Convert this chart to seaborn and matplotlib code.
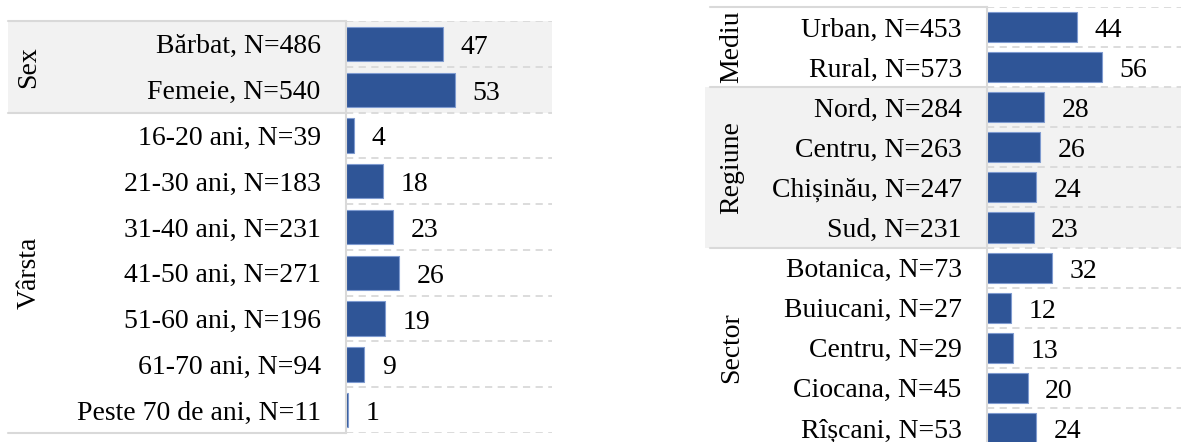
import matplotlib
matplotlib.use("Agg")
import matplotlib.pyplot as plt
import matplotlib.transforms as mtransforms
from matplotlib.patches import Rectangle
from matplotlib.lines import Line2D
import seaborn as sns
import pandas as pd

sns.set_theme(style="white")
plt.rcParams['font.family'] = ['Liberation Serif', 'DejaVu Serif']

# ---------------- data ----------------
left_labels = ["Bărbat, N=486", "Femeie, N=540", "16-20 ani, N=39", "21-30 ani, N=183",
               "31-40 ani, N=231", "41-50 ani, N=271", "51-60 ani, N=196",
               "61-70 ani, N=94", "Peste 70 de ani, N=11"]
left_values = [47, 53, 4, 18, 23, 26, 19, 9, 1]
left_groups = ["Sex", "Vârsta"]
left_group_sizes = [2, 7]

right_labels = ["Urban, N=453", "Rural, N=573", "Nord, N=284", "Centru, N=263",
                "Chișinău, N=247", "Sud, N=231", "Botanica, N=73", "Buiucani, N=27",
                "Centru, N=29", "Ciocana, N=45", "Rîșcani, N=53"]
right_values = [44, 56, 28, 26, 24, 23, 32, 12, 13, 20, 24]
right_groups = ["Mediu", "Regiune", "Sector"]
right_group_sizes = [2, 4, 5]

# ---------------- style ----------------
W, H = 1181, 442
BAR = "#2F5597"
BAR_EDGE = "#7F9BD0"
BAND = "#F2F2F2"
LINE = "#D9D9D9"
FS = 20

fig = plt.figure(figsize=(W / 100, H / 100), dpi=100)


def px_axes(x0, x1, ytop, ybot):
    return fig.add_axes([x0 / W, (H - ybot) / H, (x1 - x0) / W, (ybot - ytop) / H])


def panel(ax, labels, values, groups, sizes, xmax, band_idx, band_x0, band_x1,
          line_x0, grp_x):
    df = pd.DataFrame({"label": labels, "value": values})
    sns.barplot(data=df, y="label", x="value", order=labels, orient="h",
                color=BAR, width=0.75, edgecolor=BAR_EDGE, linewidth=0.8,
                saturation=1, ax=ax, zorder=3)
    n = len(labels)
    ax.set_xlim(0, xmax)
    ax.set_ylim(n - 0.5, -0.5)
    ax.set_xlabel("")
    ax.set_ylabel("")
    ax.set_xticks([])
    ax.patch.set_alpha(0)
    for s in ["top", "right", "bottom"]:
        ax.spines[s].set_visible(False)
    ax.spines["left"].set_color(LINE)
    ax.spines["left"].set_linewidth(1.5)
    ax.spines["left"].set_zorder(4)
    ax.tick_params(axis="y", length=0, pad=18, labelsize=FS, labelcolor="#000000")

    tr = mtransforms.blended_transform_factory(fig.transFigure, ax.transData)
    bounds = [-0.5]
    for s in sizes:
        bounds.append(bounds[-1] + s)
    for gi in band_idx:
        r = Rectangle((band_x0 / W, bounds[gi]), (band_x1 - band_x0) / W,
                      bounds[gi + 1] - bounds[gi], transform=tr, facecolor=BAND,
                      edgecolor="none", zorder=0, clip_on=False)
        ax.add_patch(r)
    for b in range(n + 1):
        ax.axhline(b - 0.5, color=LINE, lw=1.3, ls=(0, (4, 3)), zorder=1)
    axis_x = ax.get_position().x0
    for b in bounds:
        ln = Line2D([line_x0 / W, axis_x], [b, b], transform=tr, color=LINE,
                    lw=1.5, zorder=2, clip_on=False)
        ax.add_line(ln)
    for g, lo, hi in zip(groups, bounds[:-1], bounds[1:]):
        ax.text(grp_x / W, (lo + hi) / 2, g, transform=tr, rotation=90,
                ha="center", va="center", fontsize=FS, color="#000000")
    for i, v in enumerate(values):
        ax.annotate(str(v), xy=(v, i), xytext=(12.5, -2.5), textcoords="offset points",
                    ha="left", va="center", fontsize=FS, color="#000000")


ax1 = px_axes(345.7, 552, 21, 433)
panel(ax1, left_labels, left_values, left_groups, left_group_sizes, 100,
      [0], 8, 552, 8, 29)

ax2 = px_axes(986.7, 1181, 7, 448)
panel(ax2, right_labels, right_values, right_groups, right_group_sizes,
      (1181 - 986.7) / 2.05, [1], 705, 1181, 710, 732)

fig.savefig("out.png", dpi=100)
